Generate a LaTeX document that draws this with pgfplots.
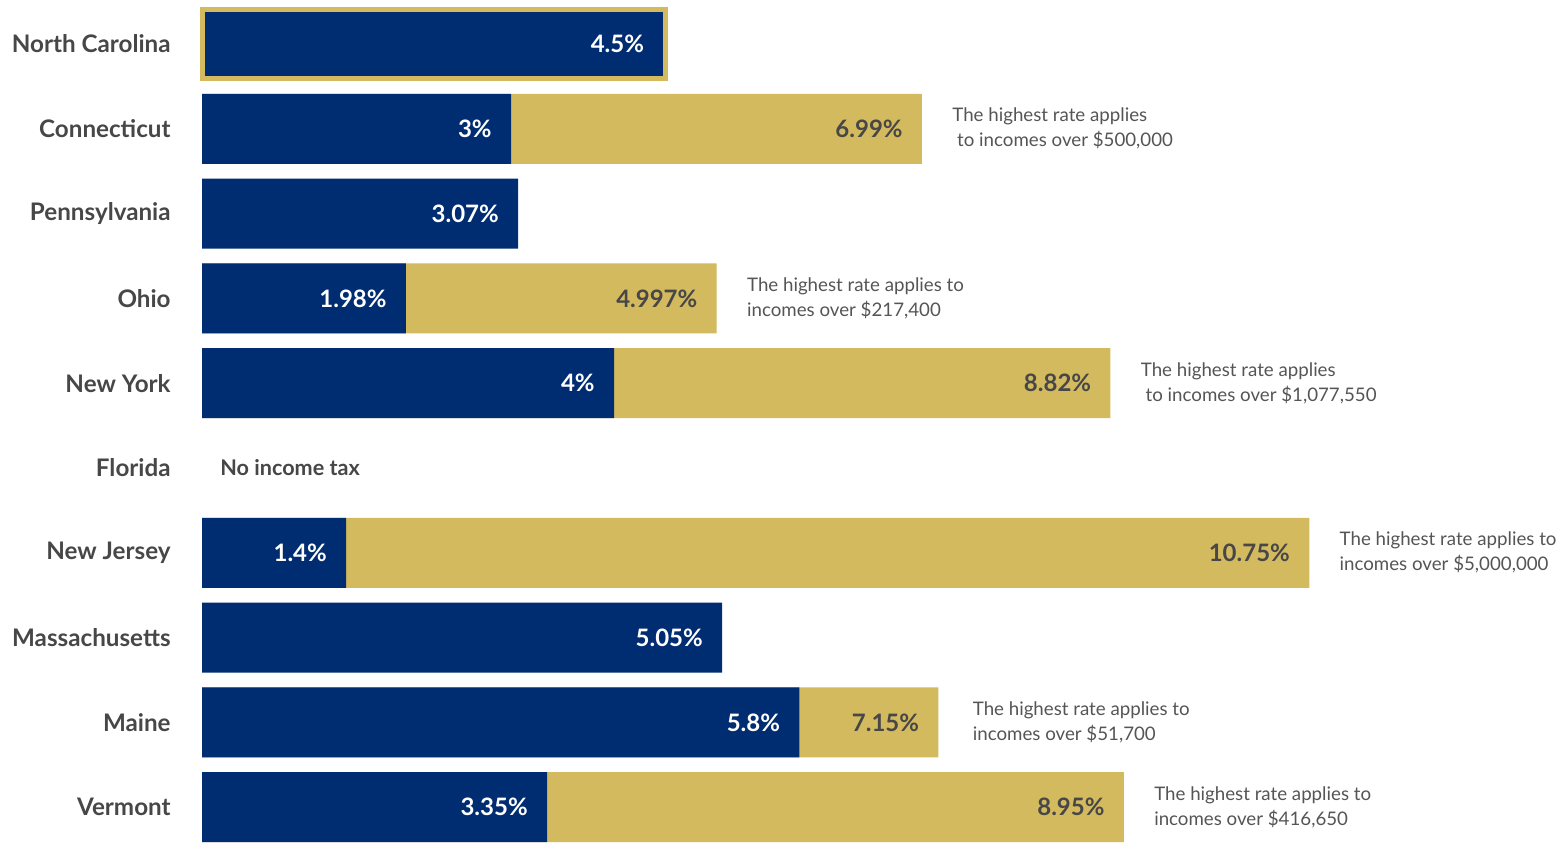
\documentclass[border=0pt]{standalone}
\usepackage{fontspec}
\setmainfont{Lato}
\usepackage{pgfplots}
\usepackage{pgfplotstable}
\pgfplotsset{compat=1.18}

\definecolor{navy}{HTML}{002D72}
\definecolor{gold}{HTML}{D4BA5E}
\definecolor{labgray}{HTML}{474747}
\definecolor{notegray}{HTML}{555555}

% rows: 0 North Carolina ... 9 Vermont (5 = Florida, no bars)
\pgfplotstableread{
y low lab
1 3    3
2 3.07 3.07
3 1.98 1.98
4 4    4
6 1.4  1.4
7 5.05 5.05
8 5.8  5.8
9 3.35 3.35
}\lowrates

\pgfplotstableread{
y high lab
1 6.99  6.99
3 4.997 4.997
4 8.82  8.82
6 10.75 10.75
8 7.15  7.15
9 8.95  8.95
}\highrates

\begin{document}
\begin{tikzpicture}
\useasboundingbox (0,0) rectangle (784pt,422pt);
\begin{axis}[
    at={(101pt,0pt)}, anchor=south west,
    scale only axis,
    width=683pt, height=422pt,
    xmin=0, xmax=13.262,
    ymin=-0.519, ymax=9.434,
    y dir=reverse,
    axis line style={draw=none},
    major tick length=0pt,
    xtick=\empty,
    ytick={0,...,9},
    yticklabels={North Carolina,Connecticut,Pennsylvania,Ohio,New York,Florida,New Jersey,Massachusetts,Maine\ ,Vermont},
    yticklabel style={font=\fontsize{12.1}{14}\selectfont\bfseries, text=labgray, inner sep=0pt, xshift=-15.5pt},
    xbar, bar width=0.825, bar shift=0pt,
    clip=false,
    point meta=explicit symbolic,
    nodes near coords={\pgfplotspointmeta\%},
    every node near coord/.append style={anchor=east, inner sep=0pt, xshift=-9.5pt,
        font=\fontsize{12}{14}\selectfont\bfseries},
]
\addplot[fill=gold, draw=none,
    every node near coord/.append style={text=labgray}]
    table[x=high, y=y, meta=lab] {\highrates};
\addplot[fill=navy, draw=none,
    every node near coord/.append style={text=white}]
    table[x=low, y=y, meta=lab] {\lowrates};
\addplot[fill=navy, draw=gold, line width=2.5pt,
    every node near coord/.append style={text=white}]
    coordinates {(4.5,0) [4.5]};

\begin{scope}[every node/.style={anchor=west, align=left, inner sep=0pt, xshift=15pt, text=notegray,
        font=\fontsize{9.35}{12.5}\selectfont}]
\node at (axis cs:6.99,1) {The highest rate applies\\\ to incomes over \$500,000};
\node at (axis cs:4.997,3) {The highest rate applies to\\incomes over \$217,400};
\node at (axis cs:8.82,4) {The highest rate applies\\\ to incomes over \$1,077,550};
\node at (axis cs:10.75,6) {The highest rate applies to\\incomes over \$5,000,000};
\node[xshift=2pt] at (axis cs:7.15,8) {The highest rate applies to\\incomes over \$51,700};
\node at (axis cs:8.95,9) {The highest rate applies to\\incomes over \$416,650};
\end{scope}
\node[anchor=west, inner sep=0pt, xshift=9pt, text=labgray, font=\fontsize{10.8}{13}\selectfont\bfseries]
    at (axis cs:0,5) {No income tax};
\end{axis}
\end{tikzpicture}
\end{document}
